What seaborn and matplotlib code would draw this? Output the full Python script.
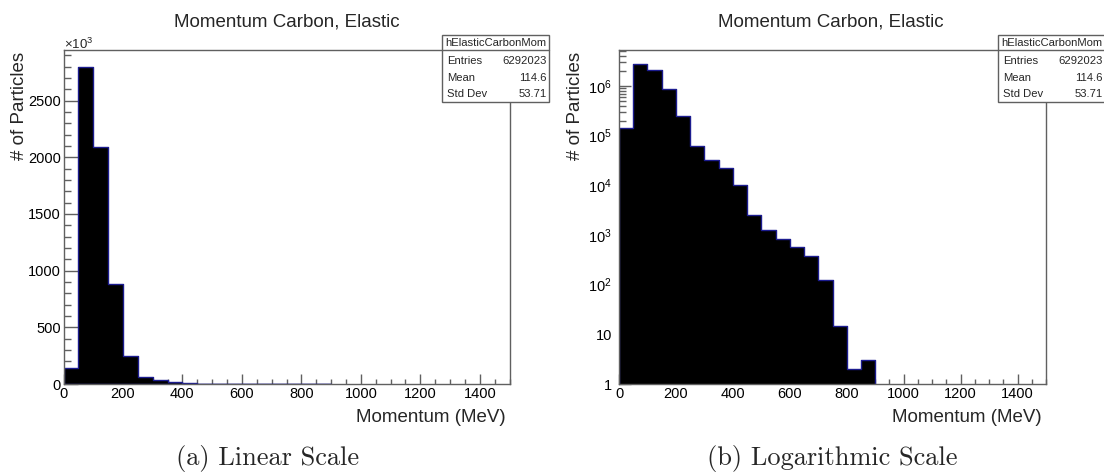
import numpy as np
import pandas as pd
import seaborn as sns
from matplotlib import pyplot as plt
from matplotlib.lines import Line2D
from matplotlib.patches import Rectangle
from matplotlib.ticker import FuncFormatter, LogLocator, MultipleLocator, NullFormatter

# histogram contents, 50 MeV bins
momentum_bin_low = [0, 50, 100, 150, 200, 250, 300, 350, 400,
                    450, 500, 550, 600, 650, 700, 750, 800, 850]
particle_counts = [1.4e5, 2.8e6, 2.09e6, 8.8e5, 2.45e5, 6.2e4, 3.2e4, 2.2e4, 1.0e4,
                   2.5e3, 1.25e3, 830, 570, 380, 127, 15, 2, 3]
bin_width = 50

hist_name = "hElasticCarbonMom"
stat_labels = ["Entries", "Mean", "Std Dev"]
stat_values = ["6292023", "114.6", "53.71"]
plot_title = "Momentum Carbon, Elastic"
captions = ["(a) Linear Scale", "(b) Logarithmic Scale"]

W, H = 1104, 473
FRAME = "#606060"
EDGE = "#1c1c8f"

sns.set_style("white")
plt.rcParams["font.family"] = ["Liberation Sans", "DejaVu Sans"]
plt.rcParams["mathtext.fontset"] = "custom"
plt.rcParams["mathtext.rm"] = "Liberation Sans"
plt.rcParams["mathtext.it"] = "Liberation Sans:italic"

df = pd.DataFrame({
    "momentum": np.array(momentum_bin_low) + bin_width / 2,
    "count": particle_counts,
})
bin_range = (momentum_bin_low[0], momentum_bin_low[-1] + bin_width)

fig = plt.figure(figsize=(W / 100, H / 100), dpi=100)


def px_axes(x0, x1, y0, y1):
    return fig.add_axes([x0 / W, 1 - y1 / H, (x1 - x0) / W, (y1 - y0) / H])


def ftext(x, y, s, **kw):
    return fig.text(x / W, 1 - y / H, s, **kw)


def stats_box(x0, y0, w=107):
    rows_y = [61, 78, 94]
    fig.add_artist(Rectangle((x0 / W, 1 - 102 / H), w / W, (102 - y0) / H,
                             transform=fig.transFigure, facecolor="white",
                             edgecolor=FRAME, linewidth=1, zorder=10))
    fig.add_artist(Line2D([x0 / W, (x0 + w) / W], [1 - 50 / H, 1 - 50 / H],
                          transform=fig.transFigure, color=FRAME, linewidth=1, zorder=11))
    ftext(x0 + w / 2, 43, hist_name, ha="center", va="center", fontsize=8.1, zorder=12)
    for lab, val, yy in zip(stat_labels, stat_values, rows_y):
        ftext(x0 + 5, yy, lab, ha="left", va="center", fontsize=8.1, zorder=12)
        ftext(x0 + w - 2, yy, val, ha="right", va="center", fontsize=8.1, zorder=12)


def log_fmt(v, pos):
    if v <= 1:
        return "1"
    if v <= 10:
        return "10"
    return f"$10^{{{int(round(np.log10(v)))}}}$"


panels = [
    dict(box=(63.5, 509.5), log=False, cx=287, ylab_x=20, stats_x=442, cap_x=268),
    dict(box=(619, 1046), log=True, cx=831, ylab_x=576, stats_x=998, cap_x=832),
]

for p in panels:
    x0, x1 = p["box"]
    ax = px_axes(x0, x1, 50, 384)
    sns.histplot(data=df, x="momentum", weights="count",
                 binwidth=bin_width, binrange=bin_range,
                 element="step", fill=True, color="black", edgecolor=EDGE,
                 linewidth=1, alpha=1, ax=ax)
    ax.set_xlim(0, 1500)
    ax.set_xlabel("")
    ax.set_ylabel("")
    for sp in ax.spines.values():
        sp.set_color(FRAME)
        sp.set_linewidth(1)

    ax.xaxis.set_major_locator(MultipleLocator(200))
    ax.xaxis.set_minor_locator(MultipleLocator(50))
    ax.tick_params(axis="both", which="both", direction="in", color=FRAME,
                   labelcolor="black", labelsize=10.5, bottom=True, left=True,
                   top=False, right=False, width=1)
    ax.tick_params(axis="x", which="major", length=7.2, pad=2)
    ax.tick_params(axis="x", which="minor", length=3.6)

    if p["log"]:
        ax.set_yscale("log")
        ax.set_ylim(1, 5.3e6)
        ax.yaxis.set_major_locator(LogLocator(base=10, numticks=10))
        ax.yaxis.set_minor_locator(LogLocator(base=10, subs=np.arange(2, 10), numticks=20))
        ax.yaxis.set_major_formatter(FuncFormatter(log_fmt))
        ax.yaxis.set_minor_formatter(NullFormatter())
        ax.tick_params(axis="y", which="major", length=8.8, pad=5)
        ax.tick_params(axis="y", which="minor", length=5)
    else:
        ax.set_ylim(0, 2.947e6)
        ax.yaxis.set_major_locator(MultipleLocator(5e5))
        ax.yaxis.set_minor_locator(MultipleLocator(1e5))
        ax.yaxis.set_major_formatter(FuncFormatter(lambda v, pos: f"{v / 1e3:g}"))
        ax.tick_params(axis="y", which="major", length=9.8, pad=2)
        ax.tick_params(axis="y", which="minor", length=4.9)
        ftext(x0, 44, r"$\times10^{3}$", ha="left", va="center", fontsize=9.5)

    ftext(p["cx"], 22, plot_title, ha="center", va="center", fontsize=13.5)
    ftext(p["ylab_x"], 52, "# of Particles", rotation=90, ha="center", va="top", fontsize=13.5)
    ftext(x1 - 4, 417, "Momentum (MeV)", ha="right", va="center", fontsize=13.5)
    stats_box(p["stats_x"], 35)

for p, cap in zip(panels, captions):
    ftext(p["cap_x"], 458, cap, ha="center", va="center", fontsize=19, family="cmr10")

fig.savefig("out.png", dpi=100)
